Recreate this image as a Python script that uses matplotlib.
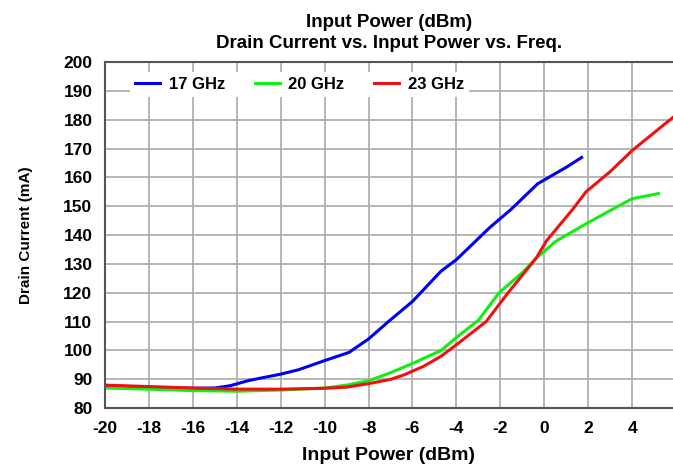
import matplotlib
matplotlib.use("Agg")
import matplotlib.pyplot as plt

plt.rcParams['font.family'] = ['Liberation Sans', 'DejaVu Sans']
plt.rcParams['axes.unicode_minus'] = False

# 17 GHz
pin_17 = [-20, -18, -16, -15, -14.3, -13.5, -13, -12, -11.2, -10, -8.9, -8, -7.1, -6, -4.7, -4, -2.5, -1.5, -0.3, 0.2, 1, 1.7]
id_17 = [87.5, 87.2, 86.9, 87.0, 87.8, 89.5, 90.3, 91.8, 93.3, 96.5, 99.3, 104, 110, 117, 127.5, 131.5, 142.5, 149, 157.8, 160, 163.5, 166.9]

# 20 GHz
pin_20 = [-20, -18, -16, -14, -12, -10, -9, -8, -7.1, -6, -4.7, -4, -3, -2.06, -1, -0.37, 0.55, 1.9, 3, 4.0, 5.2]
id_20 = [87.0, 86.6, 86.1, 85.9, 86.3, 87.0, 88.0, 89.5, 92.0, 95.5, 100, 104.5, 110.5, 120, 127, 132, 138, 143.9, 148.5, 152.6, 154.4]

# 23 GHz
pin_23 = [-20, -18, -16, -14, -12, -10, -9, -8, -7, -6.4, -5.5, -4.7, -4, -2.65, -1.7, -0.37, 0.1, 1.3, 1.9, 3, 4.0, 5.86]
id_23 = [88.0, 87.5, 87.0, 86.6, 86.6, 86.9, 87.3, 88.5, 90.0, 91.5, 94.5, 98, 102, 110, 119.5, 132, 138, 149, 155, 162, 169.3, 180.8]

fig = plt.figure(figsize=(6.73, 4.73), dpi=100)
ax = fig.add_axes([0.156, 0.137, 0.844, 0.732])

ax.plot(pin_17, id_17, color='#0000ee', lw=2.2, label='17 GHz')
ax.plot(pin_20, id_20, color='#11ee11', lw=2.2, label='20 GHz')
ax.plot(pin_23, id_23, color='#ee1111', lw=2.2, label='23 GHz')

ax.set_xlim(-20, 5.86)
ax.set_ylim(80, 200)
ax.set_xticks(range(-20, 5, 2))
ax.set_yticks(range(80, 201, 10))
ax.grid(True, color='#b0b0b0', lw=1.3)
ax.set_axisbelow(True)

for s in ['left', 'bottom', 'top']:
    ax.spines[s].set_color('#555555')
    ax.spines[s].set_linewidth(1.5)
ax.spines['right'].set_visible(False)
ax.tick_params(length=0, labelsize=12.5, pad=9)
for lab in ax.get_xticklabels() + ax.get_yticklabels():
    lab.set_fontweight('bold')

ax.set_xlabel('Input Power (dBm)', fontsize=14, fontweight='bold', labelpad=8)
ax.set_ylabel('Drain Current (mA)', fontsize=11, fontweight='bold', labelpad=22)
ax.set_title('Input Power (dBm)\nDrain Current vs. Input Power vs. Freq.',
             fontsize=13.5, fontweight='bold', pad=10, linespacing=1.3)

leg = ax.legend(loc='upper left', bbox_to_anchor=(0.03, 0.995), ncol=3,
                frameon=True, fancybox=False, edgecolor='none', framealpha=1,
                prop={'weight': 'bold', 'size': 12}, handlelength=1.5,
                handletextpad=0.5, columnspacing=1.8, borderpad=0.3)

fig.savefig('out.png', dpi=100)
